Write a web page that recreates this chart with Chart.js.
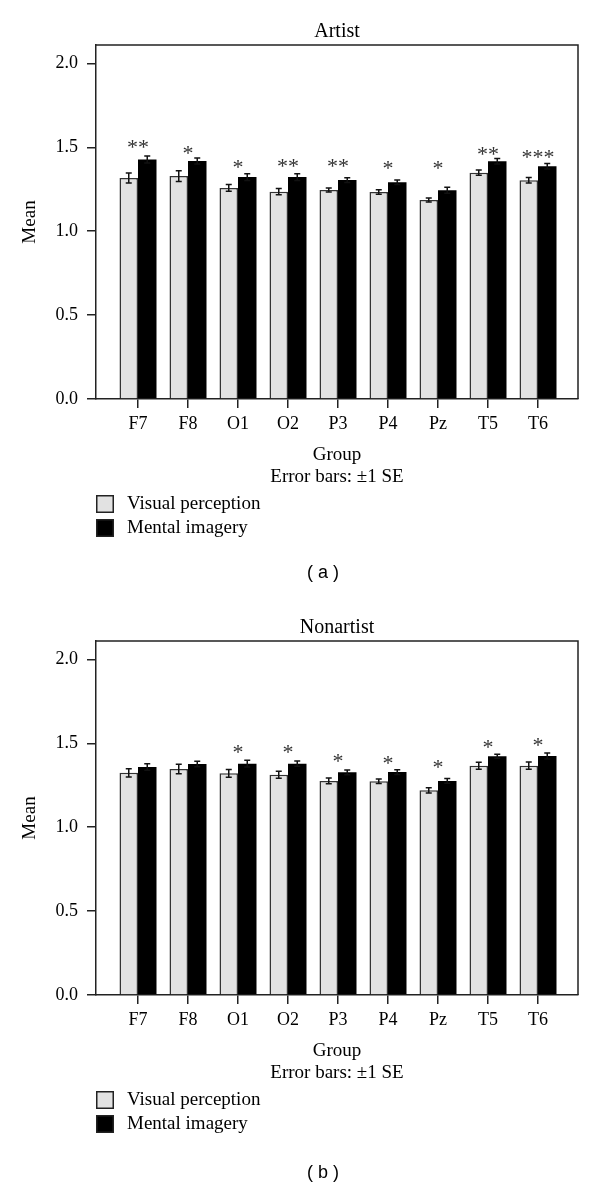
<!DOCTYPE html>
<html>
<head>
<meta charset="utf-8">
<script src="https://cdn.jsdelivr.net/npm/chart.js@4"></script>
<style>
  body { margin: 0; background: #fff; width: 600px; height: 1190px; position: relative; overflow: hidden; }
  canvas { position: absolute; left: 0; }
  #chartA { top: 0; }
  #chartB { top: 596px; }
  .cap { position: absolute; width: 80px; margin-left: -40px; text-align: center; line-height: 22px;
         font: 18px 'Liberation Sans', Arial, sans-serif; color: #000; }
</style>
</head>
<body>
<canvas id="chartA" width="600" height="596"></canvas>
<canvas id="chartB" width="600" height="594"></canvas>
<div class="cap" style="left:323px; top:562px">( a )</div>
<div class="cap" style="left:323px; top:1162px">( b )</div>
<script>
const groups = ['F7', 'F8', 'O1', 'O2', 'P3', 'P4', 'Pz', 'T5', 'T6'];
const yTicks = [0, 0.5, 1.0, 1.5, 2.0];

// Artist
const visA   = [1.317, 1.329, 1.258, 1.236, 1.246, 1.234, 1.186, 1.349, 1.304];
const seVisA = [0.030, 0.032, 0.020, 0.019, 0.012, 0.013, 0.012, 0.016, 0.016];
const menA   = [1.427, 1.419, 1.323, 1.323, 1.305, 1.292, 1.244, 1.417, 1.387];
const seMenA = [0.021, 0.018, 0.020, 0.020, 0.014, 0.014, 0.018, 0.016, 0.016];
const sigA   = ['**', '*', '*', '**', '**', '*', '*', '**', '***'];
const sigYA  = [1.524, 1.486, 1.403, 1.412, 1.412, 1.399, 1.399, 1.482, 1.462];

// Nonartist
const visB   = [1.324, 1.347, 1.321, 1.313, 1.276, 1.274, 1.220, 1.367, 1.367];
const seVisB = [0.025, 0.028, 0.023, 0.021, 0.017, 0.013, 0.016, 0.021, 0.022];
const menB   = [1.359, 1.377, 1.379, 1.379, 1.327, 1.329, 1.276, 1.423, 1.425];
const seMenB = [0.020, 0.016, 0.020, 0.016, 0.014, 0.014, 0.014, 0.012, 0.018];
const sigB   = ['', '', '*', '*', '*', '*', '*', '*', '*'];
const sigYB  = [null, null, 1.467, 1.467, 1.417, 1.403, 1.377, 1.500, 1.510];

Chart.defaults.font.family = "'Liberation Serif', 'Times New Roman', serif";
Chart.defaults.color = '#000';

// top and right side of the box
const frame = {
  id: 'frame',
  afterDraw(chart) {
    const { ctx, chartArea: a } = chart;
    ctx.save();
    ctx.strokeStyle = '#222';
    ctx.lineWidth = 1.5;
    ctx.beginPath();
    ctx.moveTo(a.left, a.top);
    ctx.lineTo(a.right, a.top);
    ctx.lineTo(a.right, a.bottom);
    ctx.stroke();
    ctx.restore();
  }
};

const errorBars = {
  id: 'errorBars',
  afterDatasetsDraw(chart) {
    const ctx = chart.ctx, y = chart.scales.y;
    ctx.save();
    ctx.strokeStyle = '#111';
    ctx.lineWidth = 1.5;
    chart.data.datasets.forEach((ds, d) => {
      chart.getDatasetMeta(d).data.forEach((bar, i) => {
        const v = ds.data[i].y, e = ds.se[i];
        const top = y.getPixelForValue(v + e), bot = y.getPixelForValue(v - e);
        ctx.beginPath();
        ctx.moveTo(bar.x, top); ctx.lineTo(bar.x, bot);
        ctx.moveTo(bar.x - 3, top); ctx.lineTo(bar.x + 3, top);
        ctx.moveTo(bar.x - 3, bot); ctx.lineTo(bar.x + 3, bot);
        ctx.stroke();
      });
    });
    ctx.restore();
  }
};

const stars = {
  id: 'stars',
  afterDatasetsDraw(chart, args, opts) {
    const ctx = chart.ctx, x = chart.scales.x, y = chart.scales.y;
    ctx.save();
    ctx.fillStyle = '#333';
    ctx.font = "22px 'Liberation Serif'";
    ctx.textAlign = 'center';
    ctx.textBaseline = 'alphabetic';
    opts.marks.forEach((m, i) => {
      if (!m) return;
      ctx.fillText(m, x.getPixelForValue(i), y.getPixelForValue(opts.at[i]) + 10.5);
    });
    ctx.restore();
  }
};

const boxLegend = {
  id: 'boxLegend',
  afterDraw(chart) {
    const ctx = chart.ctx, a = chart.chartArea;
    ctx.save();
    ctx.font = "19px 'Liberation Serif'";
    ctx.textBaseline = 'middle';
    ctx.textAlign = 'left';
    chart.data.datasets.forEach((ds, d) => {
      const top = a.bottom + 96 + d * 24;
      ctx.fillStyle = ds.backgroundColor;
      ctx.fillRect(a.left, top, 18, 18);
      ctx.strokeStyle = '#222';
      ctx.lineWidth = 1.5;
      ctx.strokeRect(a.left + 0.75, top + 0.75, 16.5, 16.5);
      ctx.fillStyle = '#000';
      ctx.fillText(ds.label, a.left + 31, top + 9);
    });
    ctx.restore();
  }
};

function makeChart(id, title, vis, seVis, men, seMen, marks, at) {
  const canvas = document.getElementById(id);
  const axisBorder = { color: '#222', width: 1.5 };
  return new Chart(canvas, {
    type: 'bar',
    data: {
      datasets: [{
        label: 'Visual perception',
        data: vis.map((v, i) => ({ x: i, y: v })),
        se: seVis,
        backgroundColor: '#e2e2e2',
        borderColor: '#333',
        borderWidth: 1.5,
        categoryPercentage: 0.74,
        barPercentage: 1
      }, {
        label: 'Mental imagery',
        data: men.map((v, i) => ({ x: i, y: v })),
        se: seMen,
        backgroundColor: '#000',
        borderColor: '#000',
        borderWidth: 0,
        categoryPercentage: 0.74,
        barPercentage: 1
      }]
    },
    options: {
      responsive: false,
      animation: false,
      layout: { padding: { left: 0, right: 22, top: 0, bottom: canvas.height - 499 } },
      scales: {
        x: {
          type: 'linear',
          offset: false,
          min: -0.84,
          max: 8.8,
          afterBuildTicks: s => { s.ticks = groups.map((g, i) => ({ value: i })); },
          afterFit: s => { s.height = 100; },
          ticks: { callback: v => groups[v], autoSkip: false, maxRotation: 0, padding: 5, font: { size: 18 } },
          grid: { offset: false, drawOnChartArea: false, tickLength: 9, color: '#222', lineWidth: 1.5 },
          border: axisBorder,
          title: {
            display: true,
            text: ['Group', 'Error bars: \u00b11 SE'],
            font: { size: 19, lineHeight: 1.16 },
            padding: { top: 0, bottom: 11 }
          }
        },
        y: {
          min: 0,
          max: 2.11,
          afterBuildTicks: s => { s.ticks = yTicks.map(v => ({ value: v })); },
          afterFit: s => { s.width = 96; },
          ticks: { callback: v => v.toFixed(1), padding: 9, font: { size: 18 } },
          grid: { drawOnChartArea: false, tickLength: 9, color: '#222', lineWidth: 1.5 },
          border: axisBorder,
          title: { display: true, text: 'Mean', font: { size: 19 }, padding: { top: 19, bottom: 0 } }
        }
      },
      plugins: {
        legend: { display: false },
        tooltip: { enabled: false },
        title: {
          display: true,
          text: title,
          fullSize: false,
          font: { size: 20, weight: 'normal' },
          color: '#000',
          padding: { top: 20, bottom: 1 }
        },
        stars: { marks: marks, at: at }
      }
    },
    plugins: [frame, errorBars, stars, boxLegend]
  });
}

makeChart('chartA', 'Artist', visA, seVisA, menA, seMenA, sigA, sigYA);
makeChart('chartB', 'Nonartist', visB, seVisB, menB, seMenB, sigB, sigYB);
</script>
</body>
</html>
